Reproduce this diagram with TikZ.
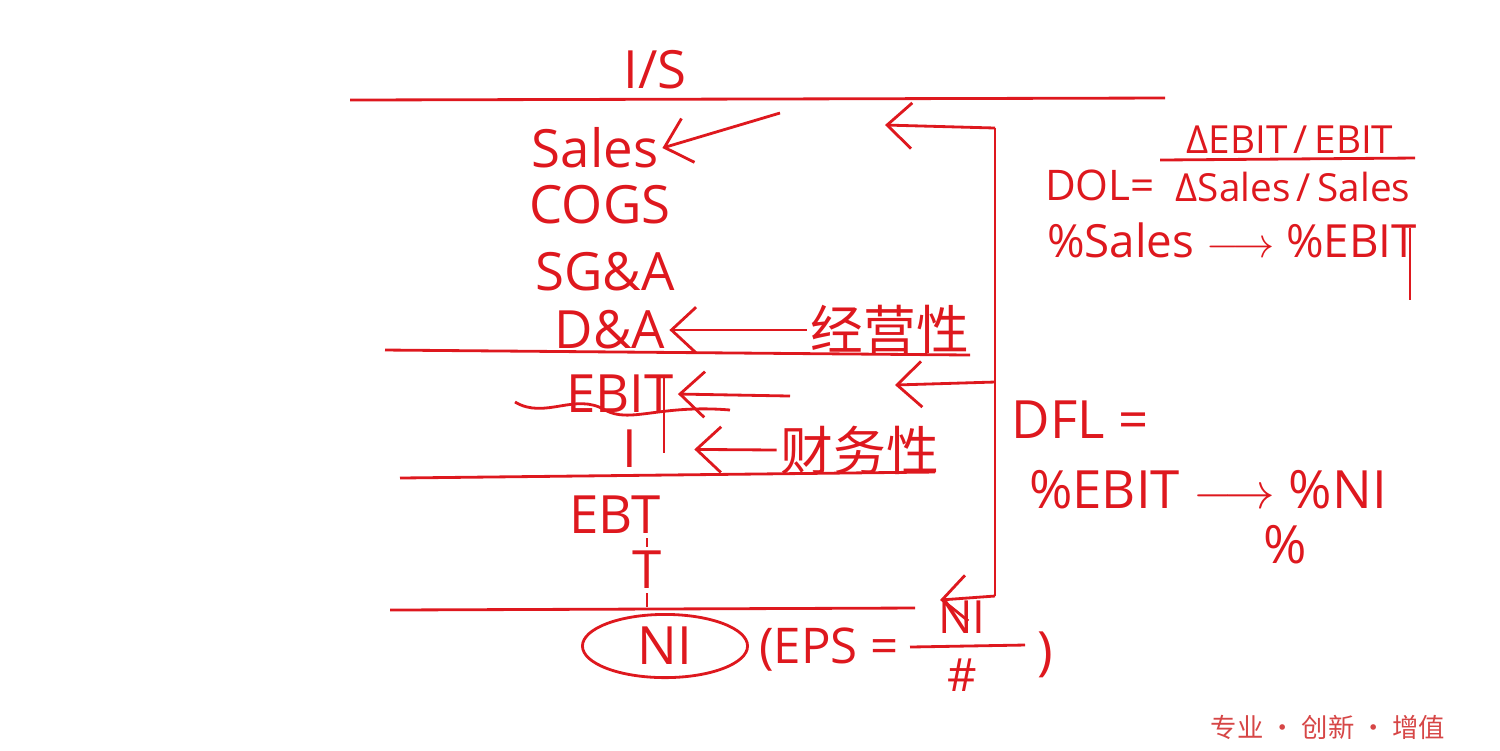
\documentclass[tikz,border=0pt]{standalone}
\usepackage{fontspec}
\setmainfont{Open Sans}
\newfontfamily\cjk{Noto Sans CJK SC}
\usetikzlibrary{arrows.meta,shapes.geometric}
\definecolor{handred}{RGB}{222,24,30}
\definecolor{markred}{RGB}{214,70,70}
\tikzset{
  hand/.style={text=handred, inner sep=1pt, font=\fontsize{15}{18}\selectfont},
  mid hand/.style={text=handred, inner sep=1pt, font=\fontsize{13}{16}\selectfont},
  small hand/.style={text=handred, inner sep=1pt, font=\fontsize{11}{13}\selectfont},
  cn hand/.style={text=handred, inner sep=1pt, font=\cjk\fontsize{15}{18}\selectfont},
  rule/.style={draw=handred, thick},
  pen/.style={draw=handred, thick, -{Straight Barb[length=7pt,width=13pt]}}
}
\begin{document}
\begin{tikzpicture}[x=0.01cm,y=-0.01cm]
\useasboundingbox (0,0) rectangle (1500,750);

%Title
\node[hand] (is) at (655,70){I/S};
\draw[rule] (350,100) -- (1165,98);

%Items
\node[hand] (sales) at (595,148){Sales};
\node[hand] (cogs) at (600,205){COGS};
\node[hand] (sgna) at (605,272){SG\&A};
\node[hand] (dna) at (610,330){D\&A};

\coordinate (salesfrom) at (780,113);
\draw[pen] (salesfrom) -- (sales.east);

%Operating
\node[cn hand] (jingying) at (890,330){经营性};
\draw[pen] (jingying.west) -- (dna.east);
\draw[rule] (385,350) -- (970,355);

%EBIT
\node[hand] (ebit) at (620,394){EBIT};
\draw[rule] (ebit.north east) ++(-14,4) -- ++(0,78);
\draw[rule] (515,402) .. controls (545,420) and (575,392) .. (605,410)
  .. controls (630,424) and (660,404) .. (730,410);
\coordinate (ebitfrom) at (790,396);
\draw[pen] (ebitfrom) -- (ebit.east);

%Interest
\node[hand] (int) at (630,449){I};
\node[cn hand] (caiwu) at (860,450){财务性};
\draw[pen, shorten >=15pt] (caiwu.west) -- (int.east);
\draw[rule] (400,478) -- (935,472);

%EBT
\node[hand] (ebt) at (615,515){EBT};
\node[hand] (tax) at (647,570){T};
\draw[rule] (tax.north |- ebt.south) -- (tax.north);
\draw[rule] (tax.south) -- (647,607);
\draw[rule] (390,610) -- (915,608);

%NI
\node[hand, draw=handred, thick, ellipse, minimum width=1.65cm, minimum height=0.52cm] (ni) at (665,646){NI};
\node[hand, anchor=west, font=\fontsize{14}{17}\selectfont] (eps) at (755,650){(EPS =};
\node[mid hand] (epsnum) at (962,617){NI};
\node[mid hand] (epsden) at (962,675){\#};
\draw[rule] (910,647) -- (1025,645);
\node[hand] (close) at (1045,655){)};

%Loop back
\coordinate (looptop) at (995,128);
\coordinate (loopmid) at (995,382);
\coordinate (loopbot) at (995,596);
\coordinate (salesto) at (885,125);
\coordinate (ebitto) at (895,385);
\coordinate (nito) at (940,600);
\draw[rule] (looptop) -- (loopbot);
\draw[pen] (looptop) -- (salesto);
\draw[pen] (loopmid) -- (ebitto);
\draw[pen] (loopbot) -- (nito);

%DOL
\node[text=handred, inner sep=1pt, font=\fontsize{12}{14}\selectfont] (dol) at (1100,185){DOL=};
\node[small hand] (dolnum) at (1290,140){ΔEBIT\,/\,EBIT};
\node[small hand] (dolden) at (1293,187){ΔSales\,/\,Sales};
\draw[rule] (1160,160) -- (1415,158);
\node[mid hand] (dolpct) at (1232,240){\%Sales $\longrightarrow$ \%EBIT};
\draw[rule] (1410,228) -- (1410,300);

%DFL
\node[hand] (dfl) at (1080,420){DFL =};
\node[hand] (dflpct) at (1208,490){\%EBIT $\longrightarrow$ \%NI};
\node[hand] (dflmore) at (1285,545){\%};

%Watermark
\node[text=markred, font=\cjk\fontsize{7.5}{9}\selectfont] (mark) at (1328,727){专业 · 创新 · 增值};

\end{tikzpicture}
\end{document}
